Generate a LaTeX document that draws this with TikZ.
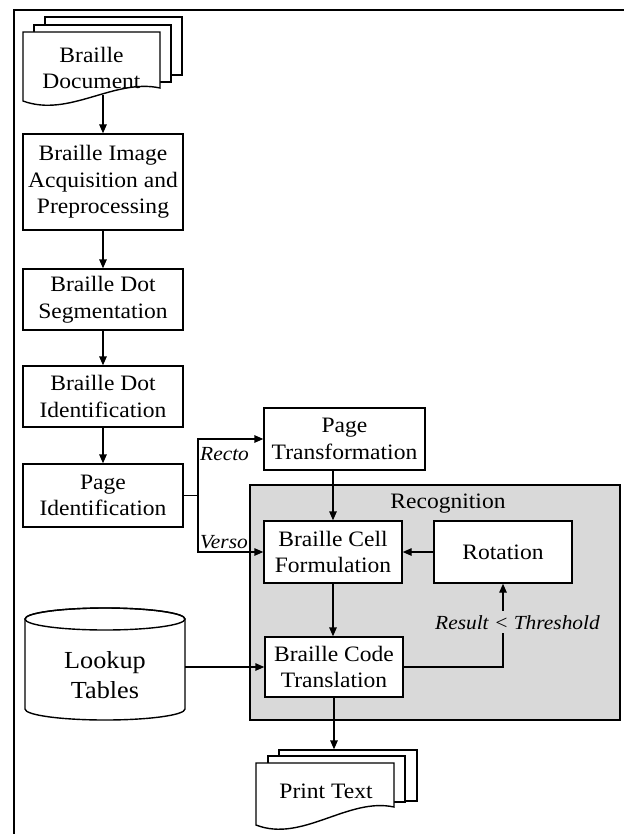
\documentclass[tikz,border=0pt]{standalone}
\usepackage{fontspec}
\setmainfont[FakeStretch=1.07]{Liberation Serif}
\usetikzlibrary{arrows.meta}
\definecolor{recgray}{RGB}{217,217,217}
\begin{document}
\begin{tikzpicture}[x=1pt,y=-1pt,
  box/.style={draw, line width=1.4pt, fill=white, align=center, inner sep=0pt, font=\fontsize{22}{26.5}\selectfont},
  sheet/.style={draw, line width=1.4pt, fill=white, inner sep=0pt},
  arr/.style={line width=1.4pt, -{Triangle[length=9pt,width=7.5pt]}},
  ln/.style={line width=1.4pt},
  lbl/.style={font=\fontsize{20}{24}\selectfont\itshape, inner sep=0pt},
  txt/.style={font=\fontsize{22}{26.5}\selectfont, align=center, inner sep=0pt}]
\useasboundingbox (0,0) rectangle (623,834);
% frame
\draw[line width=2pt] (14,836) -- (14,10) -- (625,10);

% Braille document (multi-sheet)
\node[sheet, minimum width=137pt, minimum height=58pt] (d3) at (113.5,46) {};
\node[sheet, minimum width=137pt, minimum height=57pt] (d2) at (102.5,53.5) {};
\draw[ln, fill=white] (23,32) -- (160,32) -- (160,88)
  .. controls (114,78) and (69,118) .. (23,101) -- cycle;
\node[txt] (doc) at (91.5,68) {Braille\\Document};
\coordinate (docb) at (103,95);

% left column
\node[box, minimum width=160pt, minimum height=96pt] (b1) at (103,182) {Braille Image\\Acquisition and\\Preprocessing};
\node[box, minimum width=160pt, minimum height=61pt] (b2) at (103,299.5) {Braille Dot\\Segmentation};
\node[box, minimum width=160pt, minimum height=61pt] (b3) at (103,396.5) {Braille Dot\\Identification};
\node[box, minimum width=160pt, minimum height=63pt] (b4) at (103,495.5) {Page\\Identification};

\draw[arr] (docb) -- (b1.north);
\draw[arr] (b1.south) -- (b2.north);
\draw[arr] (b2.south) -- (b3.north);
\draw[arr] (b3.south) -- (b4.north);

% page transformation
\node[box, minimum width=161pt, minimum height=62pt] (pt) at (344.5,439) {Page\\Transformation};

% recognition group
\node[draw, line width=1.4pt, fill=recgray, minimum width=370pt, minimum height=235pt, inner sep=0pt] (rec) at (435,602.5) {};
\node[txt, anchor=base] (rectitle) at (448,508) {Recognition};

\node[box, minimum width=138pt, minimum height=62pt] (bcf) at (333,552) {Braille Cell\\Formulation};
\node[box, minimum width=138pt, minimum height=62pt] (rot) at (503,552) {Rotation};
\node[box, minimum width=138pt, minimum height=60pt] (bct) at (334,667) {Braille Code\\Translation};

% branch recto / verso
\coordinate (br) at (198,495.5);
\draw[ln] (b4.east) -- (br);
\draw[arr] (br) |- (pt.west);
\draw[arr] (br) |- (bcf.west);
\node[lbl, anchor=base west] (recto) at (200,460) {Recto};
\node[lbl, anchor=base west] (verso) at (200,548) {Verso};

\draw[arr] (bcf.north |- pt.south) -- (bcf.north);
\draw[arr] (bcf.south) -- (bcf.south |- bct.north);
\draw[arr] (rot.west) -- (bcf.east);
\draw[arr] (bct.east) -- (rot.south |- bct.east) -- (rot.south);
\node[lbl, fill=recgray, inner xsep=0pt, inner ysep=4pt, anchor=base] (thr) at (517.5,629) {Result < Threshold};

% lookup tables cylinder
\draw[ln, fill=white] (25,619) -- (25,709)
  arc[start angle=180, end angle=360, x radius=80pt, y radius=11pt]
  -- (185,619) arc[start angle=0, end angle=180, x radius=80pt, y radius=11pt] -- cycle;
\draw[ln] (105,619) ellipse[x radius=80pt, y radius=11pt];
\node[txt, font=\fontsize{24.5}{30}\selectfont] (lt) at (105,675) {Lookup\\Tables};
\coordinate (lte) at (185,667);
\draw[arr] (lte) -- (bct.west);

% print text (multi-sheet)
\node[sheet, minimum width=138pt, minimum height=51pt] (p3) at (348,775.5) {};
\node[sheet, minimum width=137pt, minimum height=46pt] (p2) at (336.5,779) {};
\draw[ln, fill=white] (256,763) -- (394,763) -- (394,807)
  .. controls (348,797) and (302,843) .. (256,825) -- cycle;
\node[txt] (pr) at (326,791) {Print Text};
\draw[arr] (bct.south) -- (bct.south |- p3.north);
\end{tikzpicture}
\end{document}
